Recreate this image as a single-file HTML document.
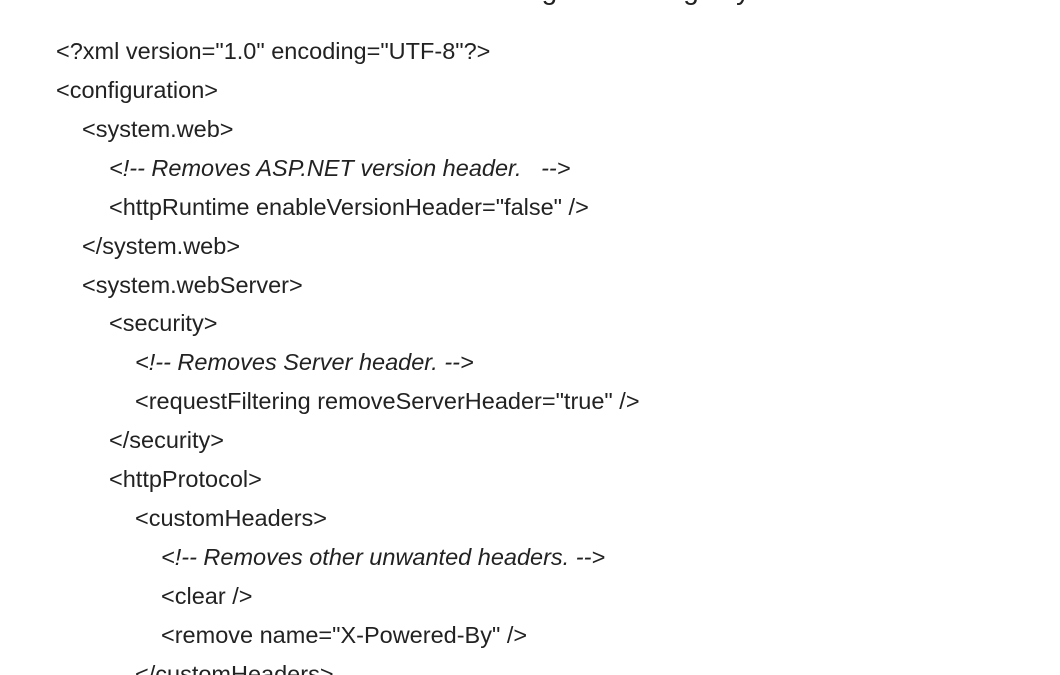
<!DOCTYPE html>
<html><head><meta charset="utf-8"><style>
html,body{margin:0;padding:0;background:#fff;width:1060px;height:675px;overflow:hidden;position:relative}
.t{position:absolute;left:56px;top:-26px;font:500 28px/32px "Liberation Sans",sans-serif;color:#222;white-space:nowrap;width:820px;overflow:hidden}
.c{position:absolute;left:56px;top:32px;font:23.5px/38.93px "Liberation Sans",sans-serif;color:#222}
.c div{height:38.93px;white-space:nowrap}
i{font-style:italic}
</style></head><body>
<div class="t">How to remove unwanted headers using web.config in your ASP.NET projects</div>
<div class="c">
<div>&lt;?xml version="1.0" encoding="UTF-8"?&gt;</div>
<div>&lt;configuration&gt;</div>
<div style="padding-left:26px">&lt;system.web&gt;</div>
<div style="padding-left:53px"><i>&lt;!-- Removes ASP.NET version header.&nbsp;&nbsp; --&gt;</i></div>
<div style="padding-left:53px">&lt;httpRuntime enableVersionHeader="false" /&gt;</div>
<div style="padding-left:26px">&lt;/system.web&gt;</div>
<div style="padding-left:26px">&lt;system.webServer&gt;</div>
<div style="padding-left:53px">&lt;security&gt;</div>
<div style="padding-left:79px"><i>&lt;!-- Removes Server header. --&gt;</i></div>
<div style="padding-left:79px">&lt;requestFiltering removeServerHeader="true" /&gt;</div>
<div style="padding-left:53px">&lt;/security&gt;</div>
<div style="padding-left:53px">&lt;httpProtocol&gt;</div>
<div style="padding-left:79px">&lt;customHeaders&gt;</div>
<div style="padding-left:105px"><i>&lt;!-- Removes other unwanted headers. --&gt;</i></div>
<div style="padding-left:105px">&lt;clear /&gt;</div>
<div style="padding-left:105px">&lt;remove name="X-Powered-By" /&gt;</div>
<div style="padding-left:79px">&lt;/customHeaders&gt;</div>
</div>
</body></html>
